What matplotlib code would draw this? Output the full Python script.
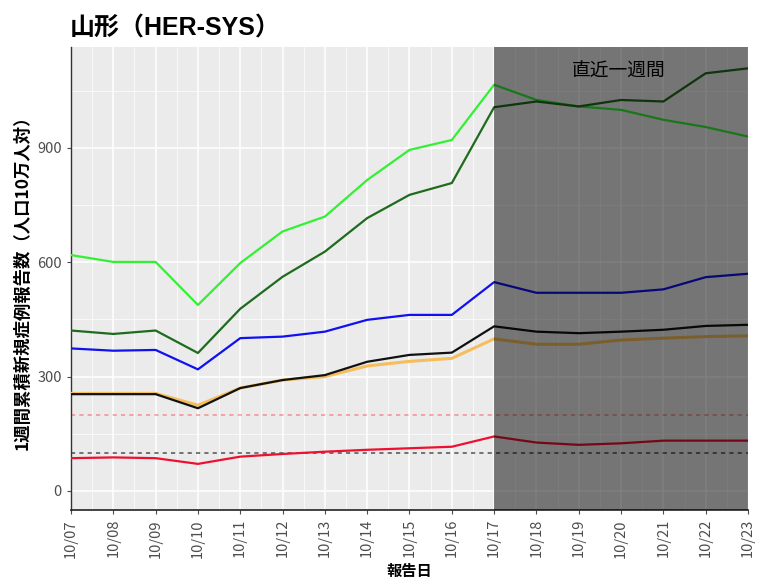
import matplotlib
matplotlib.use("Agg")
import matplotlib.pyplot as plt
import numpy as np

plt.rcParams['font.family'] = ['Noto Sans CJK JP', 'DejaVu Sans']

dates = ["10/07", "10/08", "10/09", "10/10", "10/11", "10/12", "10/13", "10/14", "10/15",
         "10/16", "10/17", "10/18", "10/19", "10/20", "10/21", "10/22", "10/23"]

light_green = [619, 601, 601, 488, 598, 681, 720, 816, 895, 921, 1066, 1026, 1009, 1000, 974, 955, 930]
dark_green = [421, 412, 421, 362, 478, 562, 628, 716, 777, 808, 1007, 1022, 1009, 1026, 1022, 1096, 1109]
blue = [374, 368, 370, 319, 401, 405, 418, 449, 462, 462, 548, 520, 520, 520, 529, 561, 570]
black = [254, 254, 254, 217, 270, 291, 304, 339, 357, 363, 432, 418, 414, 418, 423, 433, 436]
orange = [256, 256, 256, 225, 270, 291, 300, 328, 340, 348, 399, 385, 385, 396, 401, 405, 407]
red = [86, 88, 86, 71, 90, 97, 103, 108, 112, 116, 143, 127, 121, 125, 132, 132, 132]

red_threshold = 200
gray_threshold = 100
recent_start = "10/17"
recent_label = "直近一週間"

fig = plt.figure(figsize=(7.61, 5.86), dpi=100)
ax = fig.add_axes([71/761, 1-510/586, (748-71)/761, (510-47)/586])
x = np.arange(len(dates))

ax.set_facecolor('#EBEBEB')
ax.set_xlim(0, len(dates)-1)
ax.set_ylim(-50, 1165)
ax.set_yticks([0, 300, 600, 900])
ax.set_yticks([150, 450, 750, 1050], minor=True)
ax.set_xticks(x)
ax.set_xticks(x[:-1] + 0.5, minor=True)
ax.grid(which='major', color='white', linewidth=1.1)
ax.grid(which='minor', color='white', linewidth=0.5)
ax.set_axisbelow(True)

lw = 1.6
ax.axhline(red_threshold, color='#FF4040', alpha=0.5, linestyle=(0, (2.5, 2.5)), linewidth=1.2, zorder=2)
ax.axhline(gray_threshold, color='#444444', alpha=0.85, linestyle=(0, (2.5, 2.5)), linewidth=1.2, zorder=2)
ax.plot(x, light_green, color='#33F033', linewidth=lw, zorder=3)
ax.plot(x, dark_green, color='#1E6B1E', linewidth=lw, zorder=3)
ax.plot(x, blue, color='#1010F0', linewidth=lw, zorder=3)
ax.plot(x, orange, color='#F5BE5A', linewidth=lw + 0.6, zorder=3)
ax.plot(x, black, color='#111111', linewidth=lw, zorder=3)
ax.plot(x, red, color='#EE1030', linewidth=lw, zorder=3)

s = dates.index(recent_start)
ax.axvspan(s, len(dates)-1, color='black', alpha=0.5, linewidth=0, zorder=4)
ax.text(12.95, 1100, recent_label, fontsize=13.5, color='black', ha='center', va='center', zorder=5)

ax.set_xticklabels(dates, rotation=90, fontsize=10.5, color='#4D4D4D')
ax.tick_params(axis='y', labelsize=10.5, labelcolor='#4D4D4D', color='#4D4D4D', length=3)
ax.tick_params(axis='x', color='#4D4D4D', length=3)
ax.tick_params(which='minor', length=0)

for sp in ['top', 'right']:
    ax.spines[sp].set_visible(False)
ax.spines['left'].set_color('#333333')
ax.spines['bottom'].set_color('#222222')
ax.spines['left'].set_linewidth(1.0)
ax.spines['bottom'].set_linewidth(1.2)

ax.set_xlabel('報告日', fontsize=11, fontweight='bold', labelpad=4)
ax.set_ylabel('1週間累積新規症例報告数（人口10万人対）', fontsize=12.5, fontweight='bold', labelpad=4)

fig.text(70/761, 1-29/586, '山形（HER-SYS）', fontsize=18, fontweight='bold', ha='left', va='center',
         family=['Liberation Sans', 'Noto Sans CJK JP'])

fig.savefig('out.png', dpi=100)
